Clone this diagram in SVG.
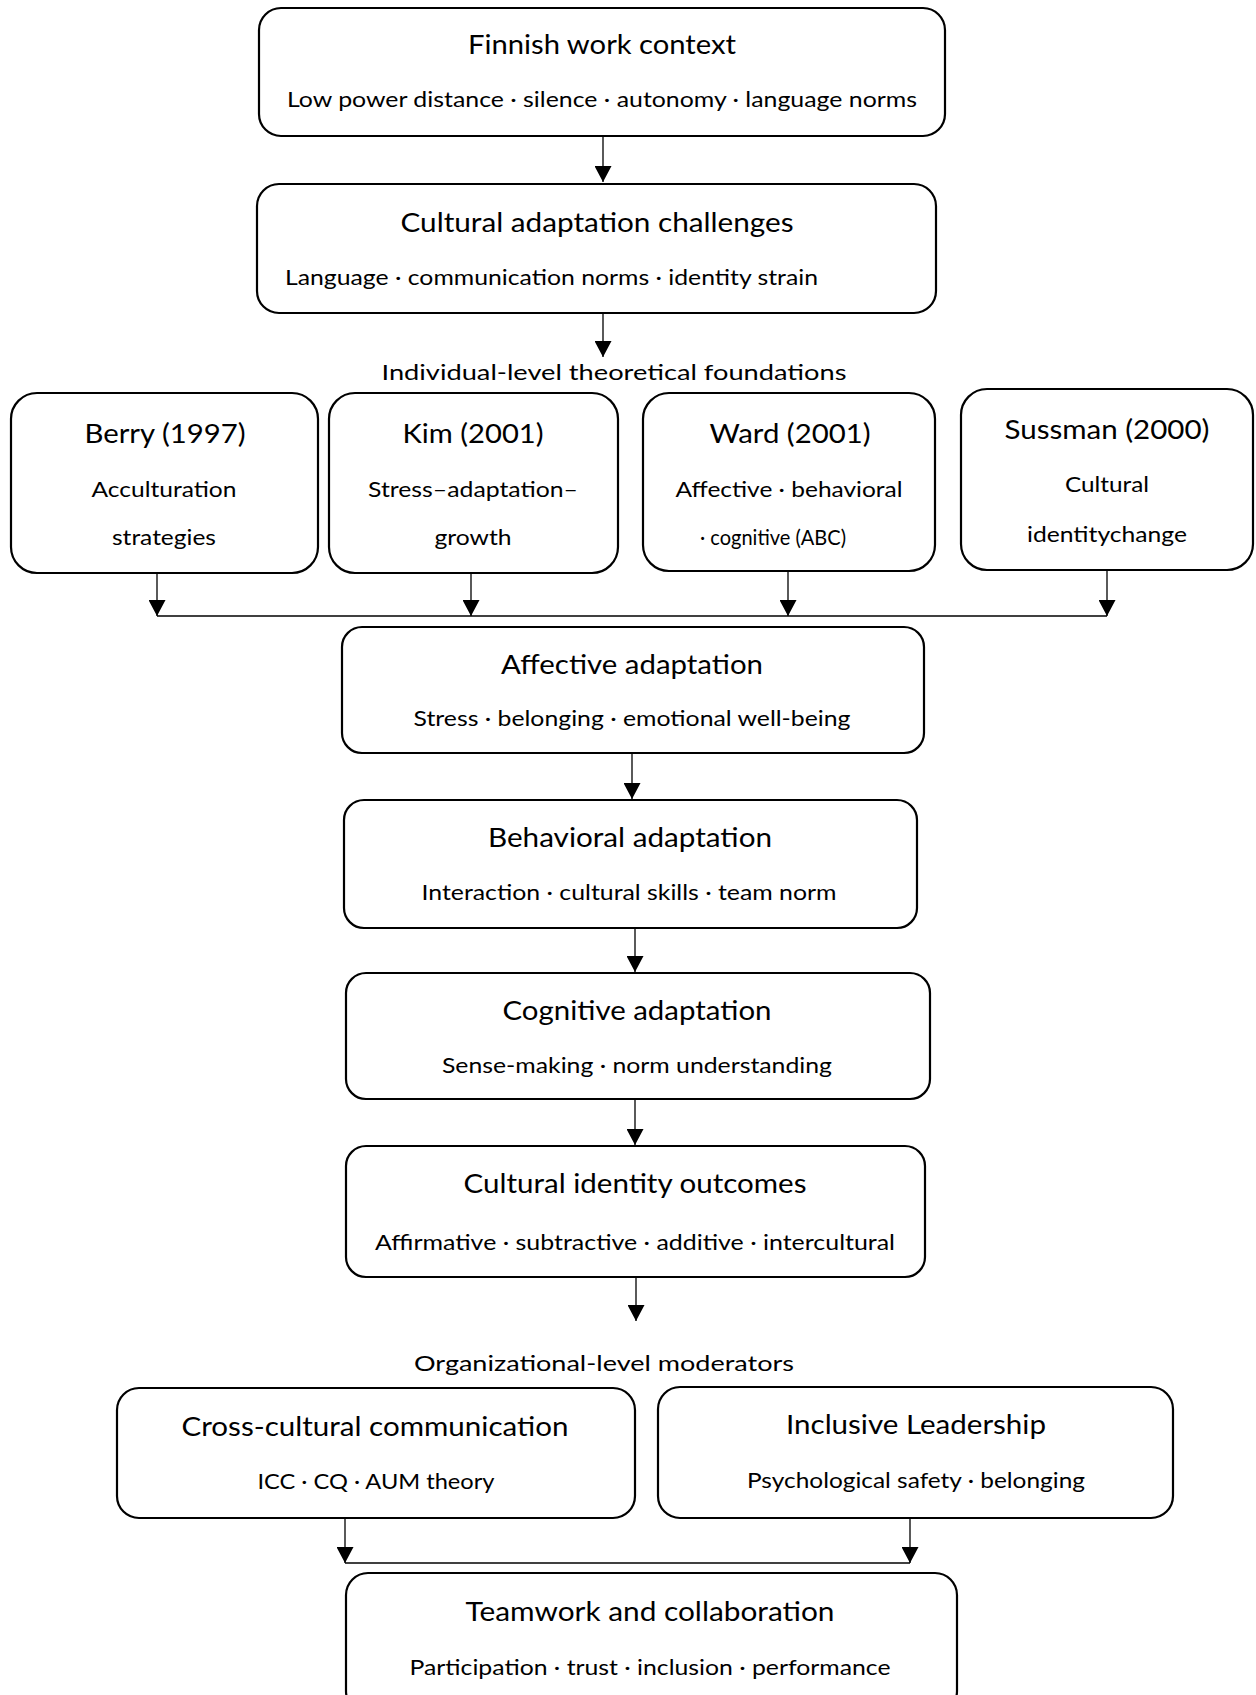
<svg xmlns="http://www.w3.org/2000/svg" width="1256" height="1695" viewBox="0 0 1256 1695">
<style>
.box{fill:#fff;stroke:#000;stroke-width:2.2}
.t{font-family:Lato,"Liberation Sans",sans-serif;font-size:26.5px;fill:#000;text-anchor:middle}
.s{font-family:Lato,"Liberation Sans",sans-serif;font-size:22px;fill:#000;text-anchor:middle}
.c{stroke:#000;stroke-width:1.3;fill:none}
</style>
<defs>
<marker id="ah" viewBox="0 0 16 17" refX="16" refY="8.5" markerWidth="16" markerHeight="17" markerUnits="userSpaceOnUse" orient="auto"><path d="M0,0 L16,8.5 L0,17 z" fill="#000"/></marker>
</defs>
<rect width="1256" height="1695" fill="#fff"/>
<g id="connectors">
<line class="c" x1="603" y1="136" x2="603" y2="182" marker-end="url(#ah)"/>
<line class="c" x1="603" y1="313" x2="603" y2="357" marker-end="url(#ah)"/>
<line class="c" x1="157" y1="573" x2="157" y2="616" marker-end="url(#ah)"/>
<line class="c" x1="471" y1="573" x2="471" y2="616" marker-end="url(#ah)"/>
<line class="c" x1="788" y1="571" x2="788" y2="616" marker-end="url(#ah)"/>
<line class="c" x1="1107" y1="570" x2="1107" y2="616" marker-end="url(#ah)"/>
<line class="c" x1="157" y1="616" x2="1107" y2="616"/>
<line class="c" x1="632" y1="753" x2="632" y2="799" marker-end="url(#ah)"/>
<line class="c" x1="635" y1="928" x2="635" y2="972" marker-end="url(#ah)"/>
<line class="c" x1="635" y1="1099" x2="635" y2="1145" marker-end="url(#ah)"/>
<line class="c" x1="636" y1="1277" x2="636" y2="1321" marker-end="url(#ah)"/>
<line class="c" x1="345" y1="1518" x2="345" y2="1563" marker-end="url(#ah)"/>
<line class="c" x1="910" y1="1518" x2="910" y2="1563" marker-end="url(#ah)"/>
<line class="c" x1="345" y1="1563" x2="910" y2="1563"/>
</g>
<g id="finnish">
<rect class="box" x="259" y="8" width="686" height="128" rx="22"/>
<text class="t" x="602" y="54" textLength="268" lengthAdjust="spacingAndGlyphs">Finnish work context</text>
<text class="s" x="602" y="107" textLength="630" lengthAdjust="spacingAndGlyphs">Low power distance · silence · autonomy · language norms</text>
</g>
<g id="challenges">
<rect class="box" x="257" y="184" width="679" height="129" rx="22"/>
<text class="t" x="597" y="232" textLength="393" lengthAdjust="spacingAndGlyphs">Cultural adaptation challenges</text>
<text class="s" x="285" y="285" style="text-anchor:start" textLength="533" lengthAdjust="spacingAndGlyphs">Language · communication norms · identity strain</text>
</g>
<g id="individual-label">
<text class="s" x="614" y="380" textLength="465" lengthAdjust="spacingAndGlyphs">Individual-level theoretical foundations</text>
</g>
<g id="berry">
<rect class="box" x="11" y="393" width="307" height="180" rx="26"/>
<text class="t" x="165" y="443" textLength="161" lengthAdjust="spacingAndGlyphs">Berry (1997)</text>
<text class="s" x="164" y="497" textLength="145" lengthAdjust="spacingAndGlyphs">Acculturation</text>
<text class="s" x="164" y="545" textLength="104" lengthAdjust="spacingAndGlyphs">strategies</text>
</g>
<g id="kim">
<rect class="box" x="329" y="393" width="289" height="180" rx="26"/>
<text class="t" x="473" y="443" textLength="141" lengthAdjust="spacingAndGlyphs">Kim (2001)</text>
<text class="s" x="473" y="497" textLength="210" lengthAdjust="spacingAndGlyphs">Stress–adaptation–</text>
<text class="s" x="473" y="545" textLength="77" lengthAdjust="spacingAndGlyphs">growth</text>
</g>
<g id="ward">
<rect class="box" x="643" y="393" width="292" height="178" rx="26"/>
<text class="t" x="790" y="443" textLength="161" lengthAdjust="spacingAndGlyphs">Ward (2001)</text>
<text class="s" x="789" y="497" textLength="227" lengthAdjust="spacingAndGlyphs">Affective · behavioral</text>
<text class="s" x="773" y="545" textLength="146" lengthAdjust="spacingAndGlyphs">· cognitive (ABC)</text>
</g>
<g id="sussman">
<rect class="box" x="961" y="389" width="292" height="181" rx="26"/>
<text class="t" x="1107" y="439" textLength="205" lengthAdjust="spacingAndGlyphs">Sussman (2000)</text>
<text class="s" x="1107" y="492" textLength="84" lengthAdjust="spacingAndGlyphs">Cultural</text>
<text class="s" x="1107" y="542" textLength="160" lengthAdjust="spacingAndGlyphs">identitychange</text>
</g>
<g id="affective">
<rect class="box" x="342" y="627" width="582" height="126" rx="20"/>
<text class="t" x="632" y="674" textLength="262" lengthAdjust="spacingAndGlyphs">Affective adaptation</text>
<text class="s" x="632" y="726" textLength="437" lengthAdjust="spacingAndGlyphs">Stress · belonging · emotional well-being</text>
</g>
<g id="behavioral">
<rect class="box" x="344" y="800" width="573" height="128" rx="20"/>
<text class="t" x="630" y="847" textLength="284" lengthAdjust="spacingAndGlyphs">Behavioral adaptation</text>
<text class="s" x="629" y="900" textLength="415" lengthAdjust="spacingAndGlyphs">Interaction · cultural skills · team norm</text>
</g>
<g id="cognitive">
<rect class="box" x="346" y="973" width="584" height="126" rx="20"/>
<text class="t" x="637" y="1020" textLength="269" lengthAdjust="spacingAndGlyphs">Cognitive adaptation</text>
<text class="s" x="637" y="1073" textLength="390" lengthAdjust="spacingAndGlyphs">Sense-making · norm understanding</text>
</g>
<g id="identity">
<rect class="box" x="346" y="1146" width="579" height="131" rx="20"/>
<text class="t" x="635" y="1193" textLength="343" lengthAdjust="spacingAndGlyphs">Cultural identity outcomes</text>
<text class="s" x="635" y="1250" textLength="520" lengthAdjust="spacingAndGlyphs">Affirmative · subtractive · additive · intercultural</text>
</g>
<g id="org-label">
<text class="s" x="604" y="1371" textLength="380" lengthAdjust="spacingAndGlyphs">Organizational-level moderators</text>
</g>
<g id="crosscultural">
<rect class="box" x="117" y="1388" width="518" height="130" rx="22"/>
<text class="t" x="375" y="1436" textLength="387" lengthAdjust="spacingAndGlyphs">Cross-cultural communication</text>
<text class="s" x="376" y="1489" textLength="237" lengthAdjust="spacingAndGlyphs">ICC · CQ · AUM theory</text>
</g>
<g id="leadership">
<rect class="box" x="658" y="1387" width="515" height="131" rx="22"/>
<text class="t" x="916" y="1434" textLength="260" lengthAdjust="spacingAndGlyphs">Inclusive Leadership</text>
<text class="s" x="916" y="1488" textLength="338" lengthAdjust="spacingAndGlyphs">Psychological safety · belonging</text>
</g>
<g id="teamwork">
<rect class="box" x="346" y="1573" width="611" height="140" rx="22"/>
<text class="t" x="650" y="1621" textLength="369" lengthAdjust="spacingAndGlyphs">Teamwork and collaboration</text>
<text class="s" x="650" y="1675" textLength="481" lengthAdjust="spacingAndGlyphs">Participation · trust · inclusion · performance</text>
</g>
</svg>
